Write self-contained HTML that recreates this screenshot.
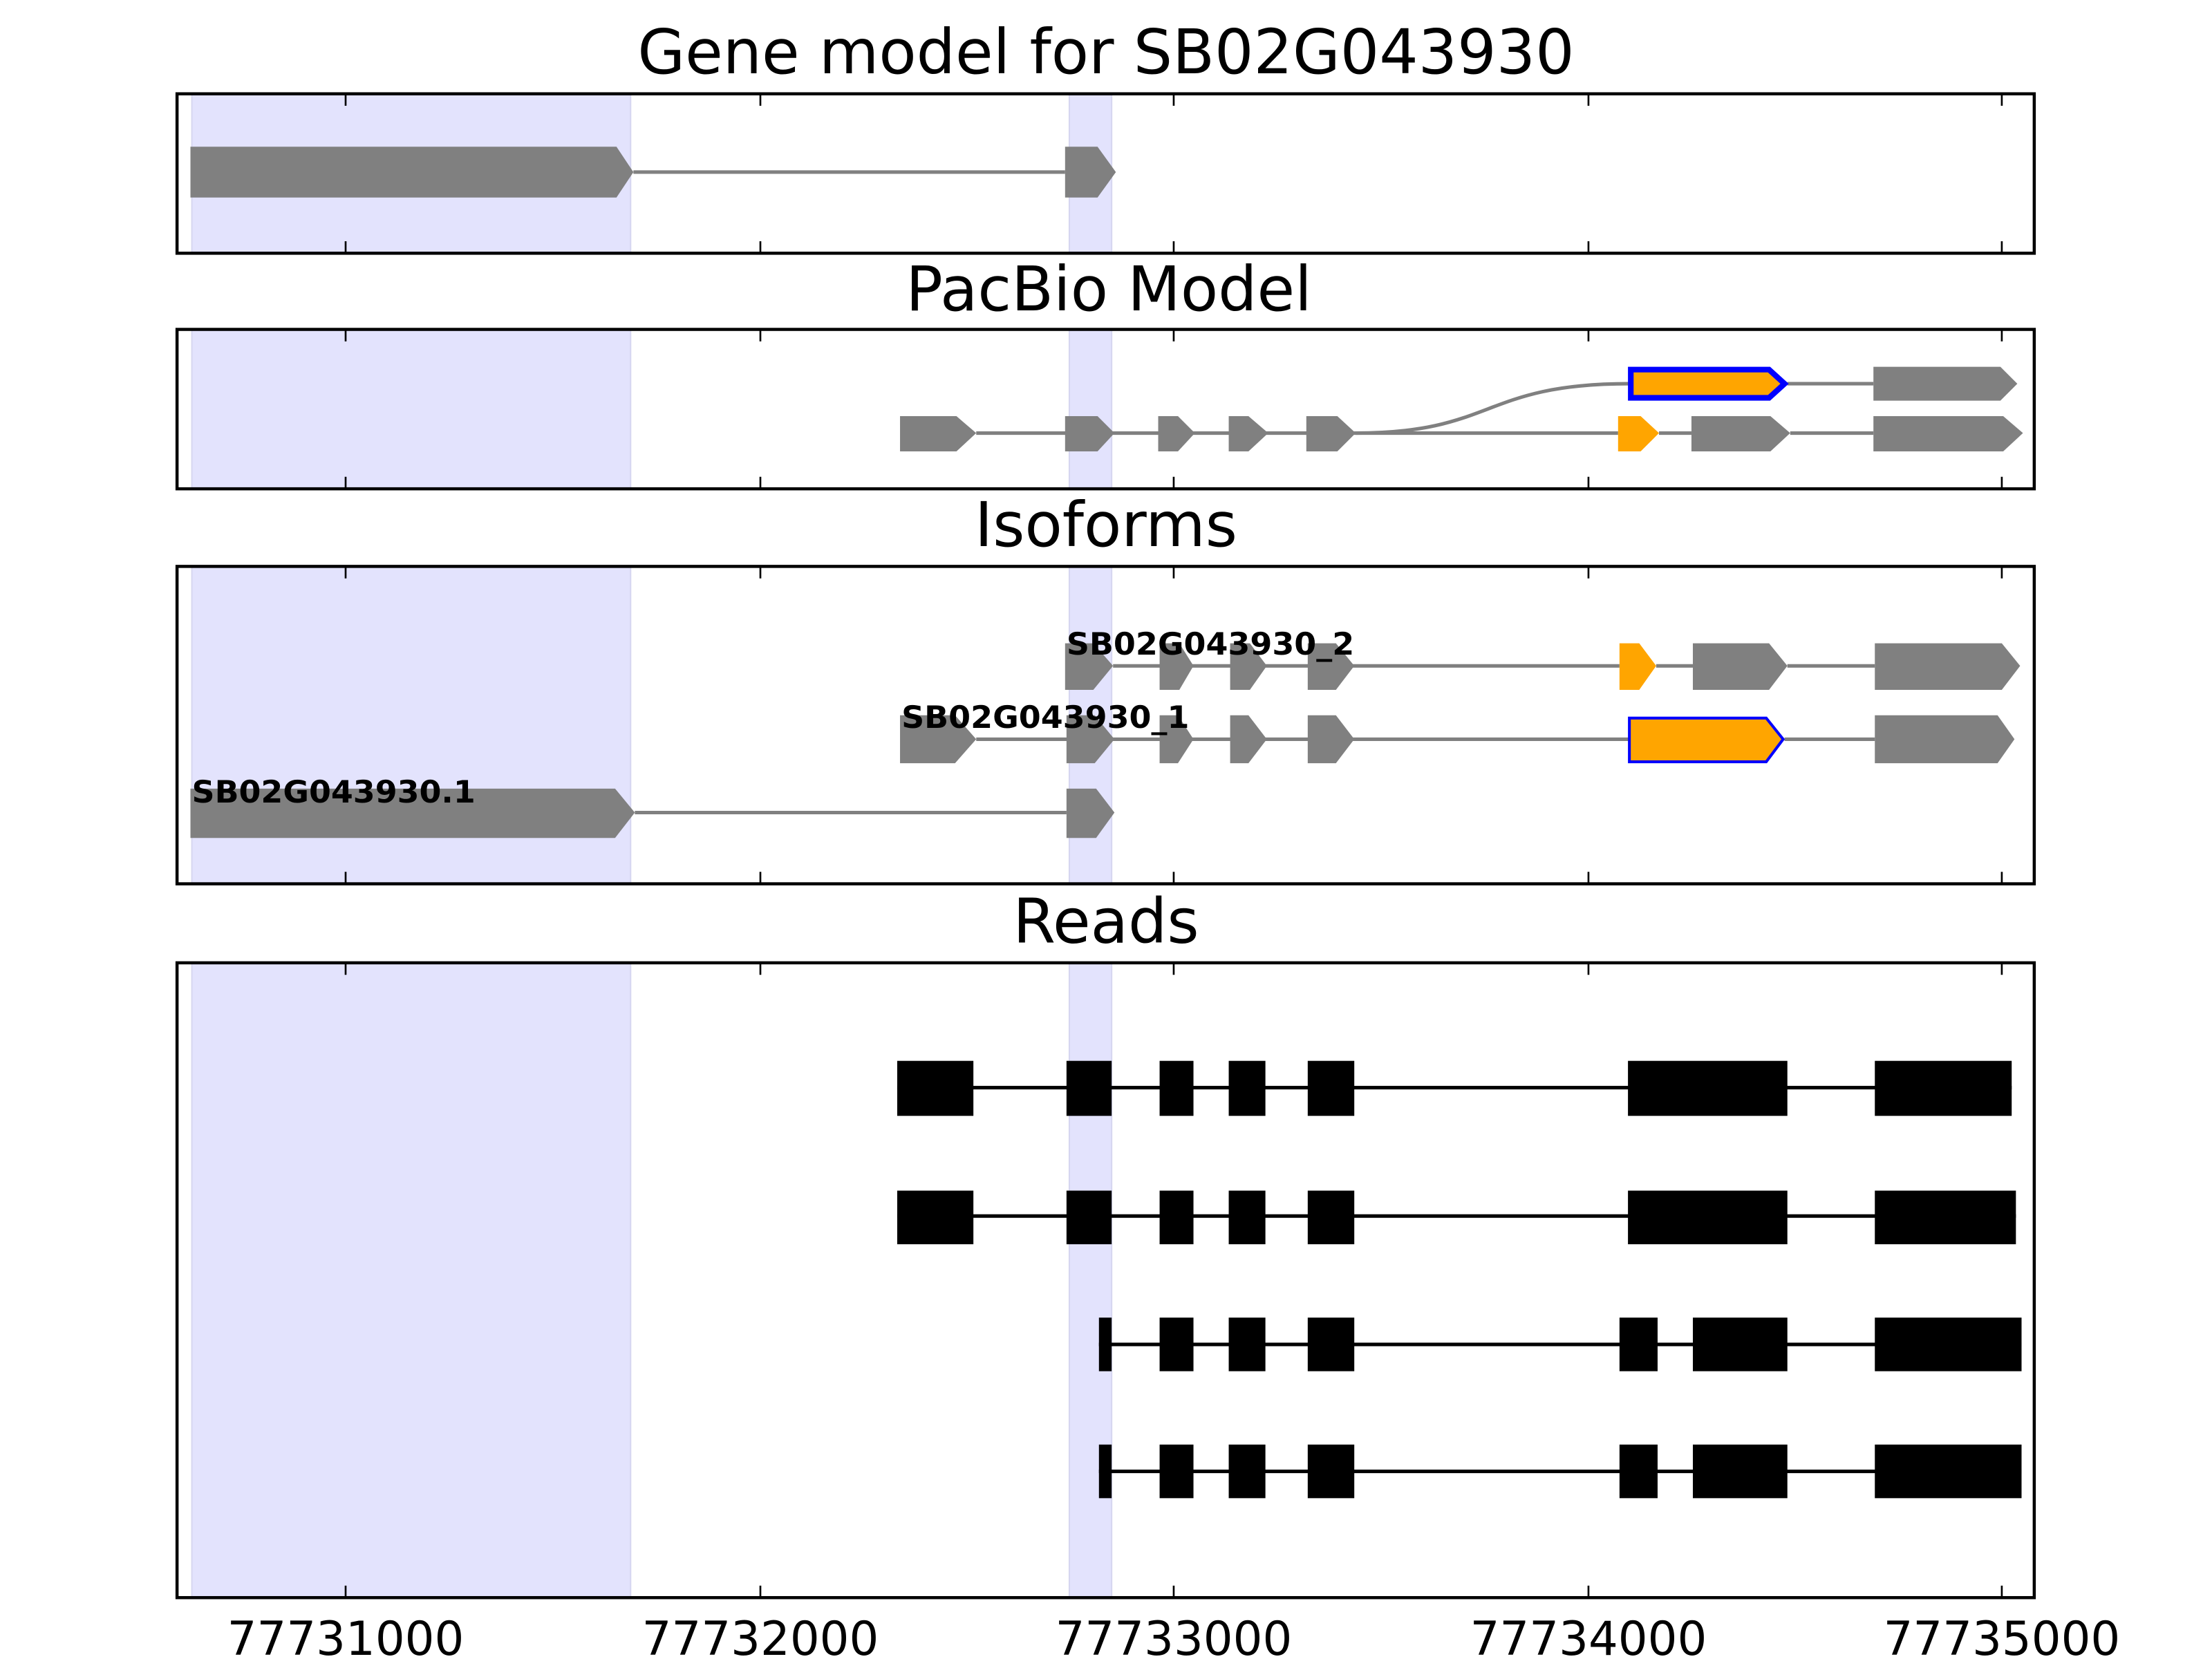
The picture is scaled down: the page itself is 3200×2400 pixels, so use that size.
<!DOCTYPE html>
<html><head><meta charset="utf-8"><style>html,body{margin:0;padding:0;background:#fff}svg{display:block}</style></head>
<body>
<svg xmlns="http://www.w3.org/2000/svg" width="3200" height="2400" viewBox="0 0 1568 1176">
<rect width="1568" height="1176" fill="#fff"/>
<g font-family="DejaVu Sans, Liberation Sans, sans-serif" fill="#000">
<text x="784" y="52" font-size="43.5" text-anchor="middle">Gene model for SB02G043930</text>
<text x="786" y="220" font-size="43.5" text-anchor="middle">PacBio Model</text>
<text x="784" y="387" font-size="43.5" text-anchor="middle">Isoforms</text>
<text x="784" y="668" font-size="43.5" text-anchor="middle">Reads</text>
<g font-size="33" text-anchor="middle">
<text x="245" y="1173">77731000</text><text x="539" y="1173">77732000</text><text x="832" y="1173">77733000</text><text x="1126" y="1173">77734000</text><text x="1419" y="1173">77735000</text>
</g>
</g>
<g fill="#e3e3fd" stroke="#d6d6f0" stroke-width="1">
<rect x="136" y="67" width="311" height="112"/><rect x="758" y="67" width="30" height="112"/>
<rect x="136" y="234" width="311" height="112"/><rect x="758" y="234" width="30" height="112"/>
<rect x="136" y="402" width="311" height="224"/><rect x="758" y="402" width="30" height="224"/>
<rect x="136" y="683" width="311" height="449"/><rect x="758" y="683" width="30" height="449"/>
</g>
<g stroke="#000" stroke-width="1.3">
<path d="M245 67v8M539 67v8M832 67v8M1126 67v8M1419 67v8M245 179v-8M539 179v-8M832 179v-8M1126 179v-8M1419 179v-8"/>
<path d="M245 234v8M539 234v8M832 234v8M1126 234v8M1419 234v8M245 346v-8M539 346v-8M832 346v-8M1126 346v-8M1419 346v-8"/>
<path d="M245 402v8M539 402v8M832 402v8M1126 402v8M1419 402v8M245 626v-8M539 626v-8M832 626v-8M1126 626v-8M1419 626v-8"/>
<path d="M245 683v8M539 683v8M832 683v8M1126 683v8M1419 683v8M245 1132v-8M539 1132v-8M832 1132v-8M1126 1132v-8M1419 1132v-8"/>
</g>
<g stroke="#808080" stroke-width="2.5" fill="none">
<path d="M449 122H755"/>
<path d="M692 307H1147M1176 307H1199M1269 307H1328"/>
<path d="M961 307C1060 307 1050 272 1155 272M1267 272H1328"/>
<path d="M789 472H1148M1174 472H1200M1267 472H1329"/>
<path d="M692 524H1155M1265 524H1329"/>
<path d="M450 576H756"/>
</g>
<g fill="#808080">
<polygon points="135,104 437,104 449,122 437,140 135,140"/>
<polygon points="755,104 778,104 791,122 778,140 755,140"/>
<polygon points="1328,260 1418,260 1430,272 1418,284 1328,284"/>
<polygon points="638,295 678,295 692,307 678,320 638,320"/>
<polygon points="755,295 778,295 790,307 778,320 755,320"/>
<polygon points="821,295 835,295 847,307 835,320 821,320"/>
<polygon points="871,295 885,295 899,307 885,320 871,320"/>
<polygon points="926,295 948,295 961,307 948,320 926,320"/>
<polygon points="1199,295 1255,295 1269,307 1255,320 1199,320"/>
<polygon points="1328,295 1420,295 1434,307 1420,320 1328,320"/>
<polygon points="755,456 775,456 789,472 775,489 755,489"/>
<polygon points="822,456 836,456 846,472 836,489 822,489"/>
<polygon points="872,456 886,456 898,472 886,489 872,489"/>
<polygon points="927,456 947,456 960,472 947,489 927,489"/>
<polygon points="1200,456 1254,456 1267,472 1254,489 1200,489"/>
<polygon points="1329,456 1419,456 1432,472 1419,489 1329,489"/>
<polygon points="638,507 677,507 692,524 677,541 638,541"/>
<polygon points="756,507 776,507 790,524 776,541 756,541"/>
<polygon points="822,507 835,507 846,524 835,541 822,541"/>
<polygon points="872,507 885,507 898,524 885,541 872,541"/>
<polygon points="927,507 947,507 960,524 947,541 927,541"/>
<polygon points="1329,507 1416,507 1428,524 1416,541 1329,541"/>
<polygon points="135,559 436,559 450,576 436,594 135,594"/>
<polygon points="756,559 777,559 790,576 777,594 756,594"/>
</g>
<g fill="#ffa500">
<polygon points="1147,295 1163,295 1176,307 1163,320 1147,320"/>
<polygon points="1148,456 1162,456 1174,472 1162,489 1148,489"/>
</g>
<polygon points="1156,262 1254,262 1265,272 1254,282 1156,282" fill="#ffa500" stroke="#0000ff" stroke-width="4"/>
<polygon points="1155,509 1252,509 1264,524 1252,540 1155,540" fill="#ffa500" stroke="#0000ff" stroke-width="2"/>
<g font-family="DejaVu Sans, Liberation Sans, sans-serif" font-weight="bold" font-size="22" fill="#000">
<text x="756" y="464" textLength="204" lengthAdjust="spacingAndGlyphs">SB02G043930_2</text>
<text x="639" y="516" textLength="204" lengthAdjust="spacingAndGlyphs">SB02G043930_1</text>
<text x="136" y="569" textLength="201" lengthAdjust="spacingAndGlyphs">SB02G043930.1</text>
</g>
<g stroke="#000" stroke-width="2.5">
<path d="M636 771H1426M636 862H1429M779 953H1433M779 1043H1433"/>
</g>
<g fill="#000">
<rect x="636" y="752" width="54" height="39"/><rect x="756" y="752" width="32" height="39"/><rect x="822" y="752" width="24" height="39"/><rect x="871" y="752" width="26" height="39"/><rect x="927" y="752" width="33" height="39"/><rect x="1154" y="752" width="113" height="39"/><rect x="1329" y="752" width="97" height="39"/>
<rect x="636" y="844" width="54" height="38"/><rect x="756" y="844" width="32" height="38"/><rect x="822" y="844" width="24" height="38"/><rect x="871" y="844" width="26" height="38"/><rect x="927" y="844" width="33" height="38"/><rect x="1154" y="844" width="113" height="38"/><rect x="1329" y="844" width="100" height="38"/>
<rect x="779" y="934" width="9" height="38"/><rect x="822" y="934" width="24" height="38"/><rect x="871" y="934" width="26" height="38"/><rect x="927" y="934" width="33" height="38"/><rect x="1148" y="934" width="27" height="38"/><rect x="1200" y="934" width="67" height="38"/><rect x="1329" y="934" width="104" height="38"/>
<rect x="779" y="1024" width="9" height="38"/><rect x="822" y="1024" width="24" height="38"/><rect x="871" y="1024" width="26" height="38"/><rect x="927" y="1024" width="33" height="38"/><rect x="1148" y="1024" width="27" height="38"/><rect x="1200" y="1024" width="67" height="38"/><rect x="1329" y="1024" width="104" height="38"/>
</g>
<g fill="none" stroke="#000" stroke-width="2.2">
<rect x="125.5" y="66.5" width="1316.5" height="113"/>
<rect x="125.5" y="233.5" width="1316.5" height="113"/>
<rect x="125.5" y="401.5" width="1316.5" height="225"/>
<rect x="125.5" y="682.5" width="1316.5" height="450"/>
</g>
</svg>
</body></html>
